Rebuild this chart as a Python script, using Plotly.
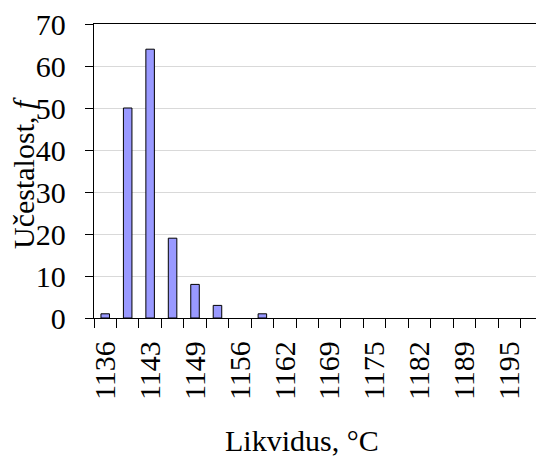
import plotly.graph_objects as go

# Data
temperatures = [1136, 1139, 1143, 1146, 1149, 1152, 1156, 1159, 1162, 1165,
                1169, 1172, 1175, 1179, 1182, 1185, 1189, 1192, 1195, 1198]
counts = [1, 50, 64, 19, 8, 3, 0, 1, 0, 0,
          0, 0, 0, 0, 0, 0, 0, 0, 0, 0]
categories = [str(t) for t in temperatures]
tick_labels = [c if i % 2 == 0 else "" for i, c in enumerate(categories)]
y_ticks = [0, 10, 20, 30, 40, 50, 60, 70]

FONT = "Liberation Serif"

# page body has an 8px margin; the figure is sized so it fits the 544x457 window
W, H = 536, 449
L, T, R, B = 86, 16, 1, 139
PW, PH = W - L - R, H - T - B

fig = go.Figure()
fig.add_trace(go.Bar(
    x=categories, y=counts,
    marker=dict(color="#9999FF",
                line=dict(color="black", width=[1 if c > 0 else 0 for c in counts])),
))

fig.update_layout(
    template="none",
    width=W, height=H,
    margin=dict(l=L, r=R, t=T, b=B, autoexpand=False),
    paper_bgcolor="white", plot_bgcolor="white",
    bargap=0.62,
    showlegend=False,
    font=dict(family=FONT, size=30, color="black"),
)

fig.update_xaxes(
    type="category", automargin=False,
    tickmode="array", tickvals=categories, ticktext=tick_labels,
    tickson="boundaries",
    ticks="outside", ticklen=9, tickcolor="black", tickwidth=1,
    tickangle=-90,
    tickfont=dict(family=FONT, size=30, color="black"),
    ticklabelstandoff=10,
    showline=True, linecolor="black", linewidth=1.3, mirror=True,
    showgrid=False, zeroline=False,
)
fig.update_yaxes(
    range=[0, 70], tickmode="array", tickvals=y_ticks, automargin=False,
    ticks="outside", ticklen=8, tickcolor="black", tickwidth=1,
    tickfont=dict(family=FONT, size=30, color="black"),
    ticklabelstandoff=13, ticklabeloverflow="allow",
    showline=True, linecolor="black", linewidth=1.3, mirror=True,
    showgrid=True, gridcolor="#d9d9d9", gridwidth=1,
    zeroline=False,
)

fig.add_annotation(
    text="Učestalost, <i>f</i>", xref="paper", yref="paper",
    x=-(94 - 23) / PW, y=(318 - 173) / PH, xanchor="center", yanchor="middle",
    textangle=-90, showarrow=False,
    font=dict(family=FONT, size=30, color="black"),
)
fig.add_annotation(
    text="Likvidus, °C", xref="paper", yref="paper",
    x=(302 - 94) / PW, y=-(440 - 318) / PH, xanchor="center", yanchor="middle",
    showarrow=False,
    font=dict(family=FONT, size=30, color="black"),
)

fig.write_html("out.html")
